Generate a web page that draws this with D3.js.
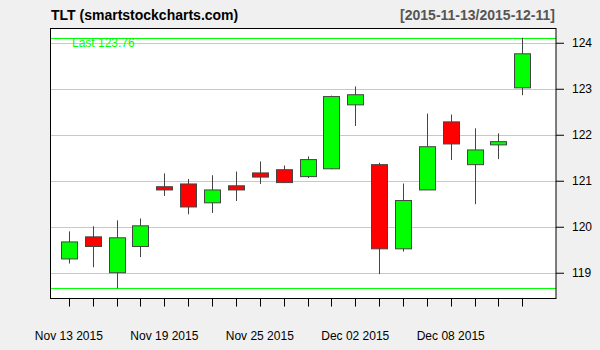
<!DOCTYPE html>
<html>
<head>
<meta charset="utf-8">
<script src="https://cdn.jsdelivr.net/npm/d3@7"></script>
<style>
  html, body { margin: 0; padding: 0; background: #f0f0f0; }
  svg { display: block; font-family: "Liberation Sans", Arial, sans-serif; }
</style>
</head>
<body>
<div id="chart"></div>
<script>
// trading days shown on the chart
const dates = [
  'Nov 13 2015', 'Nov 16 2015', 'Nov 17 2015', 'Nov 18 2015', 'Nov 19 2015',
  'Nov 20 2015', 'Nov 23 2015', 'Nov 24 2015', 'Nov 25 2015', 'Nov 27 2015',
  'Nov 30 2015', 'Dec 01 2015', 'Dec 02 2015', 'Dec 03 2015', 'Dec 04 2015',
  'Dec 07 2015', 'Dec 08 2015', 'Dec 09 2015', 'Dec 10 2015', 'Dec 11 2015',
];
const open = [119.30, 119.78, 119.00, 119.57, 120.87, 120.93, 120.52, 120.89, 121.17, 121.24,
  121.09, 121.26, 122.65, 121.35, 119.52, 120.80, 122.28, 121.35, 121.78, 123.02];
const high = [119.90, 120.01, 120.14, 120.18, 121.16, 121.04, 121.12, 121.20, 121.42, 121.33,
  121.53, 122.85, 123.05, 121.39, 120.94, 122.46, 122.44, 122.14, 122.03, 124.11];
const low = [119.20, 119.12, 118.66, 119.34, 120.67, 120.27, 120.30, 120.56, 120.93, 120.95,
  121.06, 121.25, 122.19, 118.97, 119.46, 120.80, 121.45, 120.49, 121.47, 122.86];
const close = [119.67, 119.57, 119.76, 120.02, 120.80, 120.43, 120.80, 120.80, 121.08, 120.96,
  121.46, 122.83, 122.87, 119.52, 120.57, 121.74, 121.80, 121.67, 121.85, 123.76];
const yTicks = [119, 120, 121, 122, 123, 124];
const xLabelIdx = [0, 4, 8, 12, 16];

const width = 600;
const height = 350;
const plot = { left: 50.5, right: 556, top: 28.5, bottom: 298.5 };

const svg = d3.select('#chart').append('svg')
  .attr('width', width)
  .attr('height', height);

svg.append('rect')
  .attr('width', width)
  .attr('height', height)
  .attr('fill', '#f0f0f0');

const x = d3.scaleLinear()
  .domain([-0.77, dates.length + 0.41])
  .range([plot.left, plot.right]);

const y = d3.scaleLinear()
  .domain([118.44, 124.31])
  .range([plot.bottom, plot.top]);

// plot background
svg.append('rect')
  .attr('x', plot.left)
  .attr('y', plot.top)
  .attr('width', plot.right - plot.left)
  .attr('height', plot.bottom - plot.top)
  .attr('fill', '#fff');

// horizontal grid
svg.append('g')
  .selectAll('line')
  .data(yTicks)
  .join('line')
  .attr('x1', plot.left)
  .attr('x2', plot.right)
  .attr('y1', (d) => Math.round(y(d)) + 0.5)
  .attr('y2', (d) => Math.round(y(d)) + 0.5)
  .attr('stroke', '#c8c8c8')
  .attr('stroke-width', 1);

// range lines (highest high / lowest low)
const hiVal = d3.max(high);
const loVal = d3.min(low);
svg.append('g')
  .selectAll('line')
  .data([hiVal, loVal])
  .join('line')
  .attr('x1', plot.left)
  .attr('x2', plot.right)
  .attr('y1', (d) => Math.round(y(d)) + 0.5)
  .attr('y2', (d) => Math.round(y(d)) + 0.5)
  .attr('stroke', '#00ff00')
  .attr('stroke-width', 1);

svg.append('text')
  .attr('x', 72)
  .attr('y', 47)
  .attr('fill', '#00ff00')
  .attr('font-size', 12)
  .text(`Last ${close[close.length - 1].toFixed(2)}`);

// candles
const idx = d3.range(dates.length);
const bodyW = 16;
const candles = svg.append('g');

candles.selectAll('line.wick')
  .data(idx)
  .join('line')
  .attr('class', 'wick')
  .attr('x1', (i) => Math.round(x(i)) + 0.5)
  .attr('x2', (i) => Math.round(x(i)) + 0.5)
  .attr('y1', (i) => y(high[i]))
  .attr('y2', (i) => y(low[i]))
  .attr('stroke', '#444')
  .attr('stroke-width', 1);

candles.selectAll('rect.body')
  .data(idx)
  .join('rect')
  .attr('class', 'body')
  .attr('x', (i) => Math.round(x(i) - bodyW / 2) + 0.5)
  .attr('y', (i) => y(Math.max(open[i], close[i])))
  .attr('width', bodyW)
  .attr('height', (i) => Math.max(1, Math.abs(y(open[i]) - y(close[i]))))
  .attr('fill', (i) => (close[i] >= open[i] ? '#00ff00' : '#ff0000'))
  .attr('stroke', '#444')
  .attr('stroke-width', 1);

// frame
svg.append('rect')
  .attr('x', plot.left)
  .attr('y', plot.top)
  .attr('width', plot.right - plot.left)
  .attr('height', plot.bottom - plot.top)
  .attr('fill', 'none')
  .attr('stroke', '#000')
  .attr('stroke-width', 1);

// y axis on right
const yAxis = svg.append('g')
  .attr('transform', `translate(${plot.right},0)`)
  .call(d3.axisRight(y)
    .tickValues(yTicks)
    .tickFormat(d3.format('d'))
    .tickSize(8)
    .tickPadding(8)
    .tickSizeOuter(0));
yAxis.select('.domain').remove();
yAxis.selectAll('line').attr('stroke', '#000');
yAxis.selectAll('text')
  .attr('fill', '#000')
  .attr('font-size', 12)
  .attr('font-family', '"Liberation Sans", Arial, sans-serif');

// x axis ticks
svg.append('g')
  .selectAll('line')
  .data(idx)
  .join('line')
  .attr('x1', (i) => Math.round(x(i)) + 0.5)
  .attr('x2', (i) => Math.round(x(i)) + 0.5)
  .attr('y1', plot.bottom)
  .attr('y2', plot.bottom + 8)
  .attr('stroke', '#000');

svg.append('g')
  .selectAll('text')
  .data(xLabelIdx)
  .join('text')
  .attr('x', (i) => x(i))
  .attr('y', 340)
  .attr('text-anchor', 'middle')
  .attr('font-size', 12)
  .attr('fill', '#000')
  .text((i) => dates[i]);

// titles
svg.append('text')
  .attr('x', 51)
  .attr('y', 20)
  .attr('font-size', 14)
  .attr('font-weight', 'bold')
  .attr('fill', '#000')
  .text('TLT (smartstockcharts.com)');

svg.append('text')
  .attr('x', 555)
  .attr('y', 20)
  .attr('text-anchor', 'end')
  .attr('font-size', 14)
  .attr('font-weight', 'bold')
  .attr('fill', '#555')
  .text('[2015-11-13/2015-12-11]');
</script>
</body>
</html>
